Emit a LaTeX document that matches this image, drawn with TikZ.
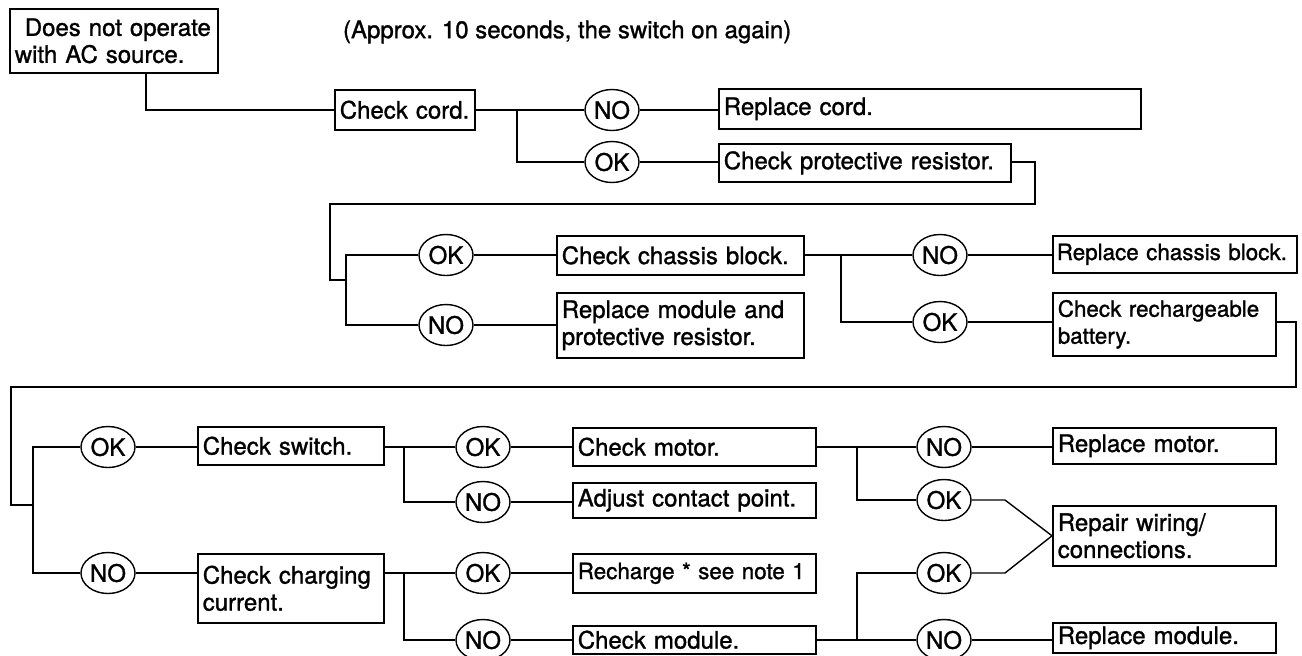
\documentclass[tikz,border=0pt]{standalone}
\usepackage{fontspec}
\setmainfont{TeX Gyre Heros}
\newfontfamily\chartfont{TeX Gyre Heros}[FakeBold=1.2]
\usetikzlibrary{positioning, shapes.geometric}
\tikzset{
	box/.style={draw, line width=0.8pt, anchor=north west, align=left, inner xsep=2.5pt, inner ysep=0pt, font=\chartfont\fontsize{12}{13.5}\selectfont},
	ans/.style={draw, line width=0.7pt, ellipse, inner sep=0pt, minimum width=27pt, minimum height=20.5pt, font=\chartfont\fontsize{12}{13.5}\selectfont},
	wire/.style={line width=0.7pt},
	tight/.style={font=\chartfont\fontsize{11.2}{13.5}\selectfont},
}

\begin{document}
\begin{tikzpicture}[x=0.5pt, y=-0.5pt]
			\useasboundingbox (0,0) rectangle (1302,655);

			% first two rows
			\node[box, text width=99pt, minimum height=32pt] (start) at (9,8) {\hspace*{5pt}Does not operate\\with AC source.};
			\node[anchor=west, font=\chartfont\fontsize{12}{13.5}\selectfont] (note) at (336,32) {(Approx. 10 seconds, the switch on again)};
			\node[box, text width=65pt, minimum height=20pt] (cord) at (334,89) {Check cord.};
			\node[ans] (no1) at (612,110) {NO};
			\node[ans] (ok1) at (612,162) {OK};
			\node[box, text width=206pt, minimum height=20pt] (rcord) at (718,88) {Replace cord.};
			\node[box, text width=141pt, minimum height=19pt] (prot) at (718,143) {Check protective resistor.};

			\node[ans] (ok2) at (446,255) {OK};
			\node[ans] (no2) at (446,325) {NO};
			\node[box, text width=118.5pt, minimum height=19.5pt] (chassis) at (556,235) {Check chassis block.};
			\node[box, text width=118.5pt, minimum height=32.5pt] (rmod) at (556,292) {Replace module and\\protective resistor.};
			\node[ans] (no3) at (940,255) {NO};
			\node[ans] (ok3) at (940,322) {OK};
			\node[box, tight, text width=118pt, inner xsep=2pt, minimum height=18.5pt] (rchassis) at (1052,235) {Replace chassis block.};
			\node[box, tight, text width=106.5pt, minimum height=31.5pt] (battery) at (1052,292) {Check rechargeable\\battery.};

			% last row
			\node[ans] (ok4) at (108,447) {OK};
			\node[ans] (no4) at (108,573) {NO};
			\node[box, text width=88pt, minimum height=19pt] (switch) at (197,426) {Check switch.};
			\node[box, text width=88pt, minimum height=34.5pt] (charging) at (197,553) {Check charging\\current.};
			\node[ans] (ok5) at (483,447) {OK};
			\node[ans] (no5) at (483,502) {NO};
			\node[ans] (ok6) at (483,573) {OK};
			\node[ans] (no6) at (483,640) {NO};
			\node[box, text width=116.5pt, minimum height=19pt] (motor) at (572,427) {Check motor.};
			\node[box, text width=116.5pt, minimum height=17.5pt] (adjust) at (572,482) {Adjust contact point.};
			\node[box, tight, text width=116.5pt, minimum height=19.5pt] (recharge) at (572,553) {Recharge * see note 1};
			\node[box, text width=116.5pt, minimum height=14pt] (module) at (572,625) {Check module.};
			\node[ans] (no7) at (944,447) {NO};
			\node[ans] (ok7) at (944,500) {OK};
			\node[ans] (ok8) at (944,573) {OK};
			\node[ans] (no8) at (944,640) {NO};
			\node[box, text width=106.5pt, minimum height=18pt] (rmotor) at (1052,427) {Replace motor.};
			\node[box, text width=106.5pt, minimum height=30pt] (repair) at (1052,505) {Repair wiring/\\connections.};
			\node[box, text width=106.5pt, minimum height=15pt] (rmod2) at (1052,622) {Replace module.};

			% junctions and bends
			\coordinate (s1) at (146,110);
			\coordinate (j1) at (517,110);
			\coordinate (c1) at (1035,204);
			\coordinate (c2) at (330,280);
			\coordinate (j2) at (346,280);
			\coordinate (j3) at (841,255);
			\coordinate (c3) at (1296,387);
			\coordinate (c4) at (11,505);
			\coordinate (j4) at (33,505);
			\coordinate (j5) at (404,447);
			\coordinate (j6) at (404,573);
			\coordinate (j7) at (857,447);
			\coordinate (j8) at (857,640);
			\coordinate (d1) at (1005,500);
			\coordinate (d2) at (1005,573);

			\draw[wire] (s1 |- start.south) -- (s1) -- (cord.west |- s1);
			\draw[wire] (cord.east |- j1) -- (no1.west);
			\draw[wire] (j1) |- (ok1.west);
			\draw[wire] (no1.east) -- (rcord.west |- no1);
			\draw[wire] (ok1.east) -- (prot.west |- ok1);

			\draw[wire] (prot.east |- ok1) -| (c1) -| (c2) -- (j2);
			\draw[wire] (ok2.west) -| (j2) |- (no2.west);
			\draw[wire] (ok2.east) -- (chassis.west |- ok2);
			\draw[wire] (no2.east) -- (rmod.west |- no2);
			\draw[wire] (chassis.east |- j3) -- (no3.west);
			\draw[wire] (j3) |- (ok3.west);
			\draw[wire] (no3.east) -- (rchassis.west |- no3);
			\draw[wire] (ok3.east) -- (battery.west |- ok3);

			\draw[wire] (battery.east |- ok3) -| (c3) -| (c4) -- (j4);
			\draw[wire] (ok4.west) -| (j4) |- (no4.west);
			\draw[wire] (ok4.east) -- (switch.west |- ok4);
			\draw[wire] (no4.east) -- (charging.west |- no4);
			\draw[wire] (switch.east |- j5) -- (ok5.west);
			\draw[wire] (j5) |- (no5.west);
			\draw[wire] (charging.east |- j6) -- (ok6.west);
			\draw[wire] (j6) |- (no6.west);
			\draw[wire] (ok5.east) -- (motor.west |- ok5);
			\draw[wire] (no5.east) -- (adjust.west |- no5);
			\draw[wire] (ok6.east) -- (recharge.west |- ok6);
			\draw[wire] (no6.east) -- (module.west |- no6);

			\draw[wire] (motor.east |- j7) -- (no7.west);
			\draw[wire] (j7) |- (ok7.west);
			\draw[wire] (module.east |- j8) -- (no8.west);
			\draw[wire] (j8) |- (ok8.west);
			\draw[wire] (no7.east) -- (rmotor.west |- no7);
			\draw[wire] (ok7.east) -- (d1) -- (repair.west);
			\draw[wire] (ok8.east) -- (d2) -- (repair.west);
			\draw[wire] (no8.east) -- (rmod2.west |- no8);
		\end{tikzpicture}
\end{document}
